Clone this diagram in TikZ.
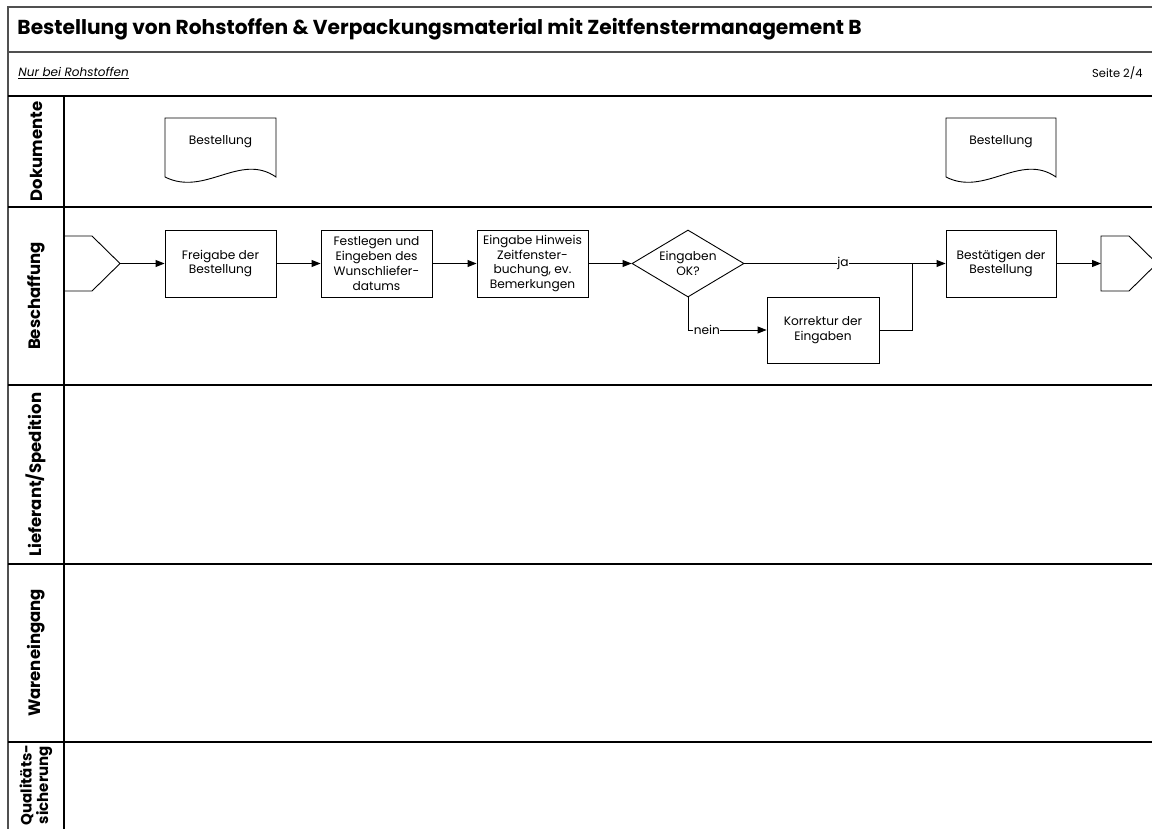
\documentclass[tikz,border=0pt]{standalone}
\usepackage{fontspec}
\setmainfont{Poppins}
\usetikzlibrary{arrows.meta,shapes.geometric}
\definecolor{framegray}{HTML}{505050}
\begin{document}
\begin{tikzpicture}[x=1pt,y=-1pt,
  line width=0.9pt,
  frame/.style={draw=framegray,line width=1.6pt},
  lane/.style={draw=black,line width=1.1pt},
  lanelabel/.style={rotate=90,font=\fontsize{16.5}{18}\selectfont\bfseries,align=center,inner sep=0pt},
  proc/.style={draw,rectangle,minimum width=111pt,minimum height=67pt,inner sep=1pt,
    align=center,font=\fontsize{12.2}{14.8}\selectfont},
  decision/.style={draw,diamond,aspect=1.67,minimum width=112pt,minimum height=67pt,inner sep=0pt,
    align=center,font=\fontsize{12.2}{14.8}\selectfont},
  doctext/.style={font=\fontsize{12.2}{14.8}\selectfont,inner sep=0pt},
  flow/.style={-{Triangle[length=9pt,width=7pt]}},
  edgelabel/.style={fill=white,inner sep=0.5pt,font=\fontsize{12.2}{14}\selectfont}]
\useasboundingbox (0,0) rectangle (1152,828);
\fill[white] (0,0) rectangle (1152,828);
\begin{scope}
\clip (0,0) rectangle (1152,828);

% header rows
\draw[frame] (1160,7) -- (8,7) -- (8,840);
\draw[frame] (8,52) -- (1160,52);
\draw[lane] (8,96) -- (1160,96);
\node[anchor=west,inner sep=0pt,font=\fontsize{20.2}{22}\selectfont\bfseries] (title) at (17,29.5)
  {Bestellung von Rohstoffen \& Verpackungsmaterial mit Zeitfenstermanagement B};
\node[anchor=west,inner sep=0pt,font=\fontsize{12}{14}\selectfont\itshape] (note) at (18,73)
  {\underline{Nur bei Rohstoffen}};
\node[anchor=east,inner sep=0pt,font=\fontsize{11.5}{14}\selectfont] (page) at (1143,73) {Seite 2/4};

% swimlanes
\draw[lane] (64,96) -- (64,840);
\draw[lane] (8,207) -- (1160,207);
\draw[lane] (8,385) -- (1160,385);
\draw[lane] (8,564) -- (1160,564);
\draw[lane] (8,742) -- (1160,742);
\node[lanelabel] (lDok) at (36,151.5) {Dokumente};
\node[lanelabel] (lBes) at (36,296) {Beschaffung};
\node[lanelabel] (lLie) at (36,474.5) {Lieferant/Spedition};
\node[lanelabel] (lWar) at (36,653) {Wareneingang};
\node[lanelabel,font=\fontsize{15}{16.5}\selectfont\bfseries] (lQua) at (36,785) {Qualitäts-\\sicherung};

% documents
\draw (165,118) -- (276,118) -- (276,177)
  .. controls (240,152) and (205,197) .. (165,177) -- cycle;
\node[doctext] (doc1) at (220.5,142) {Bestellung};
\draw (946,118) -- (1056,118) -- (1056,177)
  .. controls (1020,152) and (985,197) .. (946,177) -- cycle;
\node[doctext] (doc2) at (1001,142) {Bestellung};

% off-page connectors
\draw (64,236) -- (92,236) -- (120,263.5) -- (92,291) -- (64,291);
\coordinate (inTip) at (120,263.5);
\draw (1101,236) -- (1129,236) -- (1157,263.5) -- (1129,291) -- (1101,291) -- cycle;
\coordinate (outIn) at (1101,263.5);

% process steps
\node[proc] (frei) at (220.5,263.5) {Freigabe der\\Bestellung};
\node[proc] (fest) at (376.5,263.5) {Festlegen und\\Eingeben des\\Wunschliefer-\\datums};
\node[proc] (hinw) at (532.5,263.5) {Eingabe Hinweis\\Zeitfenster-\\buchung, ev.\\Bemerkungen};
\node[decision] (ok) at (688,263.5) {Eingaben\\OK?};
\node[proc,minimum width=112pt,minimum height=66pt] (korr) at (823,330) {Korrektur der\\Eingaben};
\node[proc,minimum width=110pt] (best) at (1001,263.5) {Bestätigen der\\Bestellung};
\coordinate (merge) at (912,263.5);

% flow
\draw[flow] (inTip) -- (frei.west);
\draw[flow] (frei.east) -- (fest.west);
\draw[flow] (fest.east) -- (hinw.west);
\draw[flow] (hinw.east) -- (ok.west);
\draw[flow] (ok.east) -- node[edgelabel,pos=0.49] (ja) {ja} (best.west);
\draw[flow] (ok.south) |- node[edgelabel,pos=0.62] (nein) {nein} (korr.west);
\draw (korr.east) -| (merge);
\draw[flow] (best.east) -- (outIn);
\end{scope}
\end{tikzpicture}
\end{document}
